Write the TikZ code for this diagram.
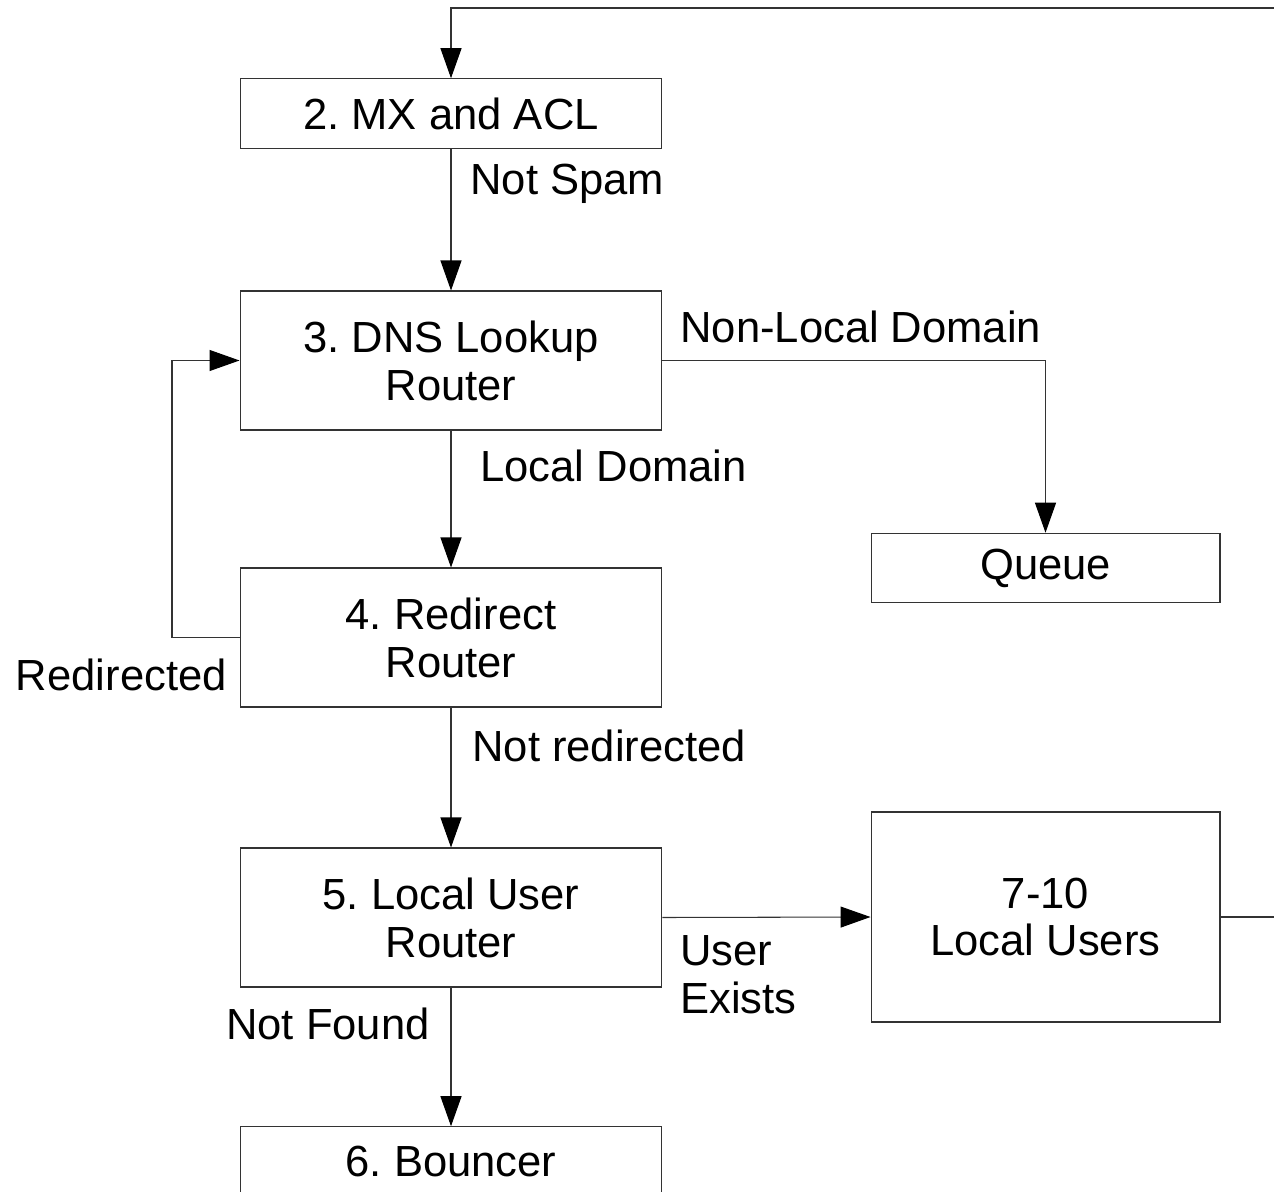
\documentclass[tikz,border=0pt]{standalone}
\usepackage{fontspec}
\setmainfont{Liberation Sans}
\usetikzlibrary{arrows.meta}

\begin{document}
\frenchspacing
\begin{tikzpicture}[
    x=0.02cm, y=-0.02cm,
    line/.style={line width=0.6pt, draw=black!80},
    box/.style={line, rectangle, align=center, inner sep=0pt,
        minimum width=8.44cm, minimum height=1.39cm,
        font=\fontsize{24.8}{27.3}\selectfont},
    tag/.style={inner sep=0pt, align=left,
        font=\fontsize{24.8}{27.3}\selectfont},
    flow/.style={line, -{Triangle[length=0.6cm, width=0.42cm, color=black]}},
]
    \useasboundingbox (0, 0) rectangle (1274, 1192);

    % boxes
    \node[box] (MX) at (451, 113.5) {2. MX and ACL};
    \node[box, minimum height=2.78cm] (DNS) at (451, 360.5) {3. DNS Lookup\\Router};
    \node[box, minimum height=2.78cm] (Redir) at (451, 637.5) {4. Redirect\\Router};
    \node[box, minimum height=2.78cm] (LUR) at (451, 917.5) {5. Local User\\Router};
    \node[box] (Bounce) at (451, 1161.5) {6. Bouncer};
    \node[box, minimum width=6.98cm] (Queue) at (1045.5, 568) {Queue};
    \node[box, minimum width=6.98cm, minimum height=4.2cm] (Users) at (1045.5, 917) {7-10\\Local Users};

    % free ends at the right edge
    \coordinate (topR) at (1274, 8);
    \coordinate (usersR) at (1274, 917);

    % connectors
    \draw[flow] (topR) -- (451, 8) -- (MX.north);
    \draw[flow] (MX) -- (DNS);
    \draw[flow] (DNS.east) -| (Queue.north);
    \draw[flow] (DNS) -- (Redir);
    \draw[flow] (Redir.west) -- (172, 637.5) |- (DNS.west);
    \draw[flow] (Redir) -- (LUR);
    \draw[flow] (LUR.east) -- (Users.west);
    \draw[flow] (LUR) -- (Bounce);
    \draw[line] (Users.east) -- (usersR);

    % labels
    \node[tag, anchor=west] (lSpam) at (470, 184) {Not Spam};
    \node[tag, anchor=west] (lNonLocal) at (680, 327) {Non-Local Domain};
    \node[tag, anchor=west] (lLocal) at (480, 466) {Local Domain};
    \node[tag, anchor=east] (lRedir) at (227, 675) {Redirected};
    \node[tag, anchor=west] (lNotRedir) at (472, 746) {Not redirected};
    \node[tag, anchor=west] (lExists) at (680, 975) {User\\Exists};
    \node[tag, anchor=east] (lNotFound) at (430, 1024) {Not Found};
\end{tikzpicture}
\end{document}
